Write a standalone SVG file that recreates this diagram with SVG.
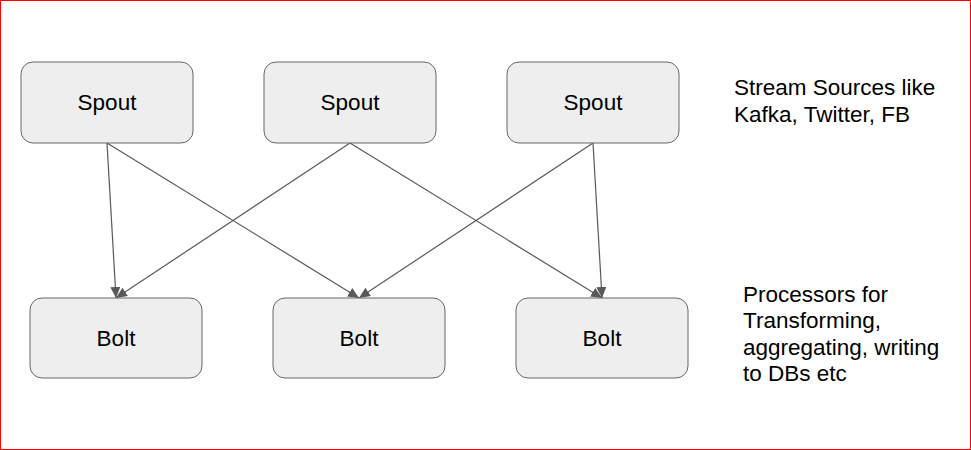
<svg xmlns="http://www.w3.org/2000/svg" width="971" height="450" viewBox="0 0 971 450">
<style>
.node rect{fill:#eeeeee;stroke:#666666;stroke-width:1}
.node text{font-family:"Liberation Sans",Arial,sans-serif;font-size:22.5px;fill:#000;text-anchor:middle}
.note{font-family:"Liberation Sans",Arial,sans-serif;font-size:22.5px;fill:#000}
.conn line{stroke:#595959;stroke-width:1.2;marker-end:url(#ah)}
</style>
<defs>
<marker id="ah" markerWidth="12" markerHeight="10" refX="11" refY="5" orient="auto" markerUnits="userSpaceOnUse">
<path d="M0,0 L11,5 L0,10 z" fill="#595959"/>
</marker>
</defs>
<rect x="0.5" y="0.5" width="970" height="449" fill="#ffffff" stroke="#ff0000" stroke-width="1"/>
<g id="connectors" class="conn">
<line x1="107" y1="143" x2="116" y2="298"/>
<line x1="107" y1="143" x2="359" y2="298"/>
<line x1="350" y1="143" x2="116" y2="298"/>
<line x1="350" y1="143" x2="602" y2="298"/>
<line x1="593" y1="143" x2="359" y2="298"/>
<line x1="593" y1="143" x2="602" y2="298"/>
</g>
<g id="spout1" class="node"><rect x="21" y="62" width="172" height="81" rx="12"/><text x="107" y="110">Spout</text></g>
<g id="spout2" class="node"><rect x="264" y="62" width="172" height="81" rx="12"/><text x="350" y="110">Spout</text></g>
<g id="spout3" class="node"><rect x="507" y="62" width="172" height="81" rx="12"/><text x="593" y="110">Spout</text></g>
<g id="bolt1" class="node"><rect x="30" y="298" width="172" height="80" rx="12"/><text x="116" y="346">Bolt</text></g>
<g id="bolt2" class="node"><rect x="273" y="298" width="172" height="80" rx="12"/><text x="359" y="346">Bolt</text></g>
<g id="bolt3" class="node"><rect x="516" y="298" width="172" height="80" rx="12"/><text x="602" y="346">Bolt</text></g>
<g id="note-sources">
<text class="note" x="734" y="95">Stream Sources like</text>
<text class="note" x="734" y="122">Kafka, Twitter, FB</text>
</g>
<g id="note-processors">
<text class="note" x="743" y="302">Processors for</text>
<text class="note" x="743" y="328">Transforming,</text>
<text class="note" x="743" y="355">aggregating, writing</text>
<text class="note" x="743" y="381">to DBs etc</text>
</g>
</svg>
